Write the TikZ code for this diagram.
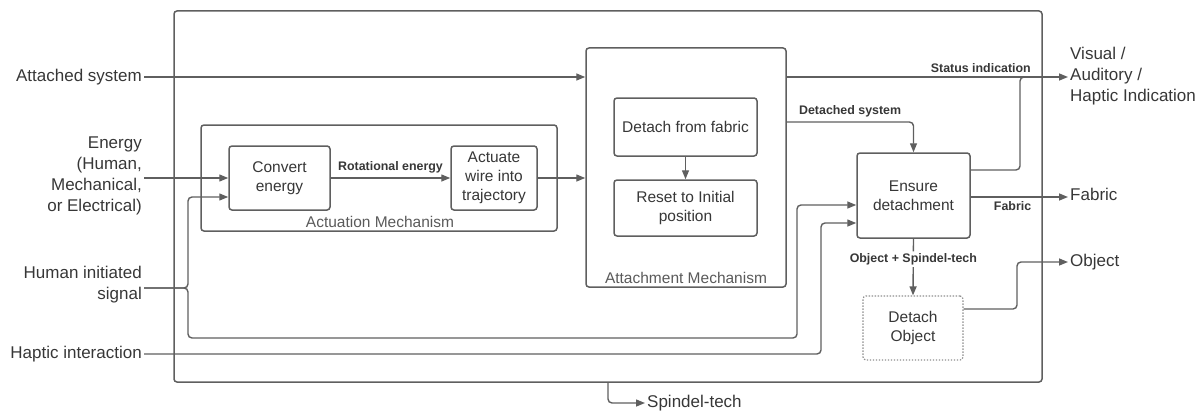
\documentclass[tikz,border=0pt]{standalone}
\usepackage{fontspec}
\setmainfont{Liberation Sans}
\usetikzlibrary{arrows.meta}
\definecolor{ln}{RGB}{95,95,95}
\definecolor{tx}{RGB}{55,55,55}
\definecolor{lbl}{RGB}{90,90,90}
\begin{document}
\begin{tikzpicture}[x=1pt,y=-1pt,
  outer/.style={font=\fontsize{17}{21}\selectfont, text=tx, inner sep=2pt},
  box/.style={draw=ln, line width=1.5pt, rounded corners=3pt, fill=white, align=center,
    font=\fontsize{15.5}{19}\selectfont, text=tx, inner sep=0pt},
  group/.style={draw=ln, line width=1.5pt, rounded corners=3pt, inner sep=0pt},
  grouplabel/.style={font=\fontsize{15.5}{19}\selectfont, text=lbl},
  wire/.style={draw=ln, line width=1.4pt, rounded corners=4pt},
  flow/.style={wire, -{Triangle[length=9pt,width=7pt]}},
  tag/.style={font=\fontsize{12.4}{14}\selectfont\bfseries, text=tx, inner sep=1pt}
]
\useasboundingbox (0,0) rectangle (1202,412);

% system boundary and sub-mechanisms
\node[group, minimum width=868pt, minimum height=371pt] (sys) at (608,196.5) {};
\node[group, minimum width=356pt, minimum height=106pt] (actm) at (379,178) {};
\node[grouplabel] (actlabel) at (380,222) {Actuation Mechanism};
\node[group, minimum width=200pt, minimum height=239pt] (attm) at (686,167.5) {};
\node[grouplabel] (attlabel) at (686,278) {Attachment Mechanism};

% function blocks
\node[box, minimum width=101pt, minimum height=64pt] (convert) at (279.5,178) {Convert\\energy};
\node[box, minimum width=86pt, minimum height=64pt] (actuate) at (494,178) {Actuate\\wire into\\trajectory};
\node[box, minimum width=143pt, minimum height=58pt] (detach) at (685.5,127) {Detach from fabric};
\node[box, minimum width=143pt, minimum height=56pt] (reset) at (685.5,208) {Reset to Initial\\position};
\node[box, minimum width=113pt, minimum height=85pt] (ensure) at (913.5,195.5) {Ensure\\detachment};
\node[box, draw=ln!70, line width=1.2pt, dash pattern=on 1.4pt off 1.6pt,
      minimum width=100pt, minimum height=64pt] (dobj) at (913,328) {Detach\\Object};

% inputs
\node[outer, anchor=east] (att) at (144,77) {Attached system};
\node[outer, anchor=east, align=right] (energy) at (144,176) {Energy\\(Human,\\Mechanical,\\or Electrical)};
\node[outer, anchor=east, align=right] (human) at (144,285) {Human initiated\\signal};
\node[outer, anchor=east] (haptic) at (144,354) {Haptic interaction};

% outputs
\node[outer, anchor=west, align=left] (vis) at (1068,76) {Visual /\\Auditory /\\Haptic Indication};
\node[outer, anchor=west] (fabric) at (1068,194) {Fabric};
\node[outer, anchor=west] (object) at (1068,262) {Object};
\node[outer, anchor=west] (spindel) at (645,403) {Spindel-tech};

% flows
\draw[flow] (att.east) -- (att.east -| attm.west);
\draw[flow] (energy.east |- convert.west) -- (convert.west);
\draw[flow] (convert) -- node[tag, above=3pt] {Rotational energy} (actuate);
\draw[flow] (actuate) -- (actuate -| attm.west);
\draw[flow] (detach) -- (reset);

\draw[flow] (attm.east |- att) -- node[tag, above=3pt, pos=0.69] {Status indication} (vis.west |- att);
\draw[wire] (ensure.east |- 0,170) -| (1020,77) -- (1030,77);
\draw[flow] (attm.east |- 0,122) -| node[tag, above=3pt, pos=0.25] {Detached system} (ensure.north);

\draw[flow] (human.east |- 0,288) -| (188,197) -- (convert.west |- 0,197);
\draw[flow] (human.east |- 0,288) -| (188,338) -| (797,205) -- (ensure.west |- 0,205);
\draw[flow] (haptic.east) -| (821,223) -- (ensure.west |- 0,223);

\draw[flow] (ensure.east |- 0,197) -- node[tag, below=3pt, pos=0.43] {Fabric} (fabric.west |- 0,197);
\draw[flow] (ensure.south) -- node[tag, fill=white, inner sep=2pt, pos=0.36] {Object + Spindel-tech} (dobj.north);
\draw[flow] (dobj.east |- 0,309) -| (1017,262) -- (object.west);
\draw[flow] (sys.south) |- (spindel.west);
\end{tikzpicture}
\end{document}
